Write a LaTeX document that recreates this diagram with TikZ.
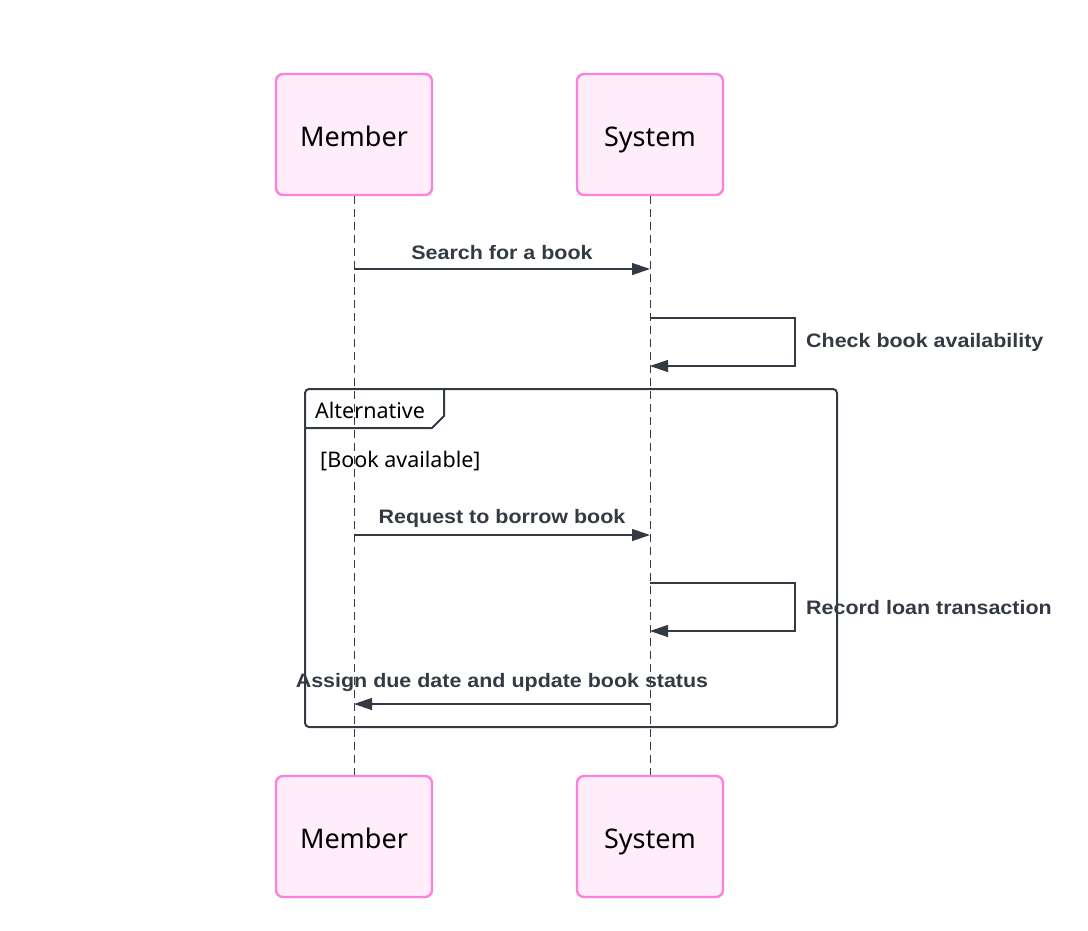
\documentclass[tikz,border=0pt]{standalone}
\usepackage{fontspec}
\setmainfont{Noto Sans}
\newfontfamily\lblfont{Liberation Sans}[FakeStretch=1.1]
\usetikzlibrary{arrows.meta}
\definecolor{boxfill}{HTML}{FFEEF9}
\definecolor{boxline}{HTML}{FF80DC}
\definecolor{ink}{HTML}{333A44}
\tikzset{
  actor/.style={draw=boxline, fill=boxfill, line width=2.4pt, rounded corners=7pt,
    minimum width=156pt, minimum height=121pt, inner sep=0pt, text height=23pt, text depth=0pt,
    font=\fontsize{27}{32}\selectfont, text=black},
  actorsys/.style={actor, minimum width=146pt},
  lifeline/.style={draw=ink, line width=1pt, dash pattern=on 8pt off 5pt},
  msg/.style={draw=ink, line width=1.3pt, -{Triangle[length=18pt,width=12pt]}},
  msglabel/.style={font=\lblfont\bfseries\fontsize{19.5}{23}\selectfont, text=ink, inner sep=0pt},
  frame/.style={draw=ink, line width=2pt},
  plain/.style={font=\fontsize{21.5}{25}\selectfont, text=black, inner sep=0pt}
}
\begin{document}
\begin{tikzpicture}[x=1pt,y=-1pt]
\useasboundingbox (0,0) rectangle (1088,930);
% actors
\node[actor] (mtop) at (354,134.5) {Member};
\node[actorsys] (stop) at (650,134.5) {System};
\node[actor] (mbot) at (354,836.5) {Member};
\node[actorsys] (sbot) at (650,836.5) {System};
% lifelines
\draw[lifeline] (mtop.south) -- (mbot.north);
\draw[lifeline] (stop.south) -- (sbot.north);
% coordinates on lifelines
\coordinate (m1) at (354,269);
\coordinate (s1) at (650,269);
\coordinate (s2a) at (650,318);
\coordinate (s2b) at (650,366);
\coordinate (m3) at (354,535);
\coordinate (s3) at (650,535);
\coordinate (s4a) at (650,583);
\coordinate (s4b) at (650,631);
\coordinate (m5) at (354,704);
\coordinate (s5) at (650,704);
% alt frame
\draw[frame, rounded corners=4pt] (305,389) rectangle (837,727);
\draw[frame] (305,428) -- (432,428) -- (444,416) -- (444,389);
\node[plain, anchor=west] (alt) at (315,410) {Alternative};
\node[plain, anchor=west] (cond) at (320,461) {[Book available]};
% messages
\draw[msg] (m1) -- (s1);
\node[msglabel] (l1) at (502,253) {Search for a book};
\draw[msg] (s2a) -- (795,318) -- (795,366) -- (s2b);
\node[msglabel, anchor=west] (l2) at (806,342) {Check book availability};
\draw[msg] (m3) -- (s3);
\node[msglabel] (l3) at (502,518) {Request to borrow book};
\draw[msg] (s4a) -- (795,583) -- (795,631) -- (s4b);
\node[msglabel, anchor=west] (l4) at (806,608) {Record loan transaction};
\draw[msg] (s5) -- (m5);
\node[msglabel] (l5) at (502,682) {Assign due date and update book status};
\end{tikzpicture}
\end{document}
